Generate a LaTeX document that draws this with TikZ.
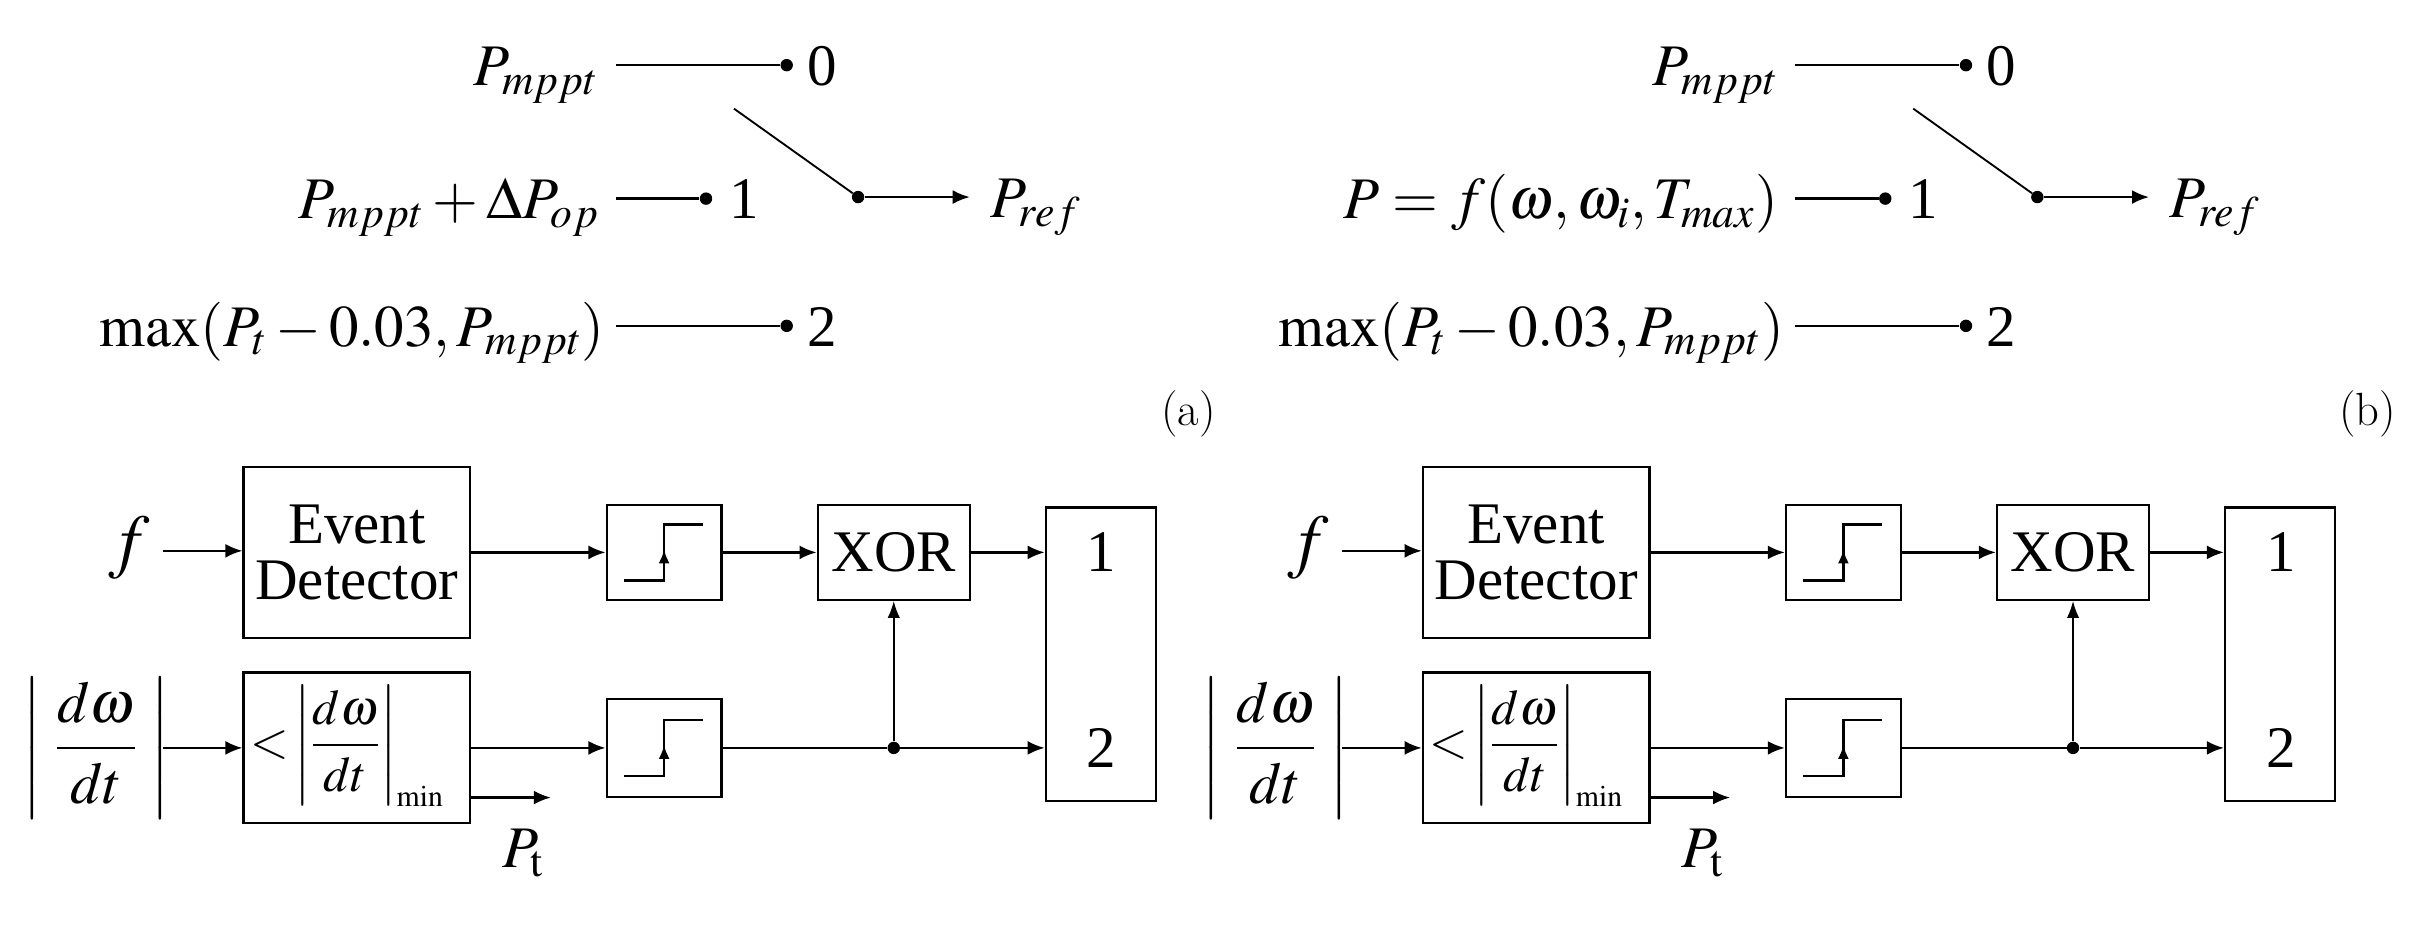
\documentclass[tikz,border=0pt]{standalone}
\usepackage{amsmath}
\usepackage{mathptmx}
\usepackage[no-math]{fontspec}
\setmainfont{Liberation Serif}
\usetikzlibrary{arrows.meta,calc}
\newcommand\stepsym[1]{%
  \draw[step line] ([shift={(-26,18)}]#1.center) -- ++(26,0) -- ++(0,-36) -- ++(25,0);
  \draw[step line,-{Latex[length=9pt,width=7pt]}] ([shift={(0,18)}]#1.center) -- ++(0,-20);}
\begin{document}
\begin{tikzpicture}[x=1pt,y=-1pt,
  txt/.style={inner sep=0pt,font=\fontsize{38}{40}\selectfont},
  blk/.style={draw,line width=1.5pt,inner sep=0pt,font=\fontsize{38}{40}\selectfont,align=center},
  con/.style={line width=1.5pt},
  arr/.style={line width=1.5pt,-{Latex[length=11pt,width=9pt]}},
  thin line/.style={line width=1.2pt},
  step line/.style={line width=1.7pt},
  dot/.style={circle,fill,inner sep=0pt,minimum size=8pt},
  lab/.style={font=\fontfamily{lmr}\fontsize{30}{32}\selectfont}]
\useasboundingbox (0,0) rectangle (1568,602);
\foreach \dx/\lb/\one in {0/a/{$P_{mppt}+\Delta P_{op}$},760/b/{$P=f(\omega,\omega_{i},T_{max})$}}{
\begin{scope}[xshift=\dx]
 \node[txt,anchor=base east] (r0\lb) at (386,55) {$P_{mppt}$};
 \node[txt,anchor=base east] (r1\lb) at (386,141) {\one};
 \node[txt,anchor=base east] (r2\lb) at (390,223) {$\max(P_{t}-0.03,P_{mppt})$};
 \coordinate (s0\lb) at (397,42);
 \coordinate (s1\lb) at (397,128);
 \coordinate (s2\lb) at (397,210);
 \node[dot] (d0\lb) at (507,42) {};
 \node[dot] (d1\lb) at (455,128) {};
 \node[dot] (d2\lb) at (507,210) {};
 \draw[con] (s0\lb) -- (d0\lb);
 \draw[con] (s1\lb) -- (d1\lb);
 \draw[con] (s2\lb) -- (d2\lb);
 \node[txt,anchor=base west] (n0\lb) at (520,55) {0};
 \node[txt,anchor=base west] (n1\lb) at (470,141) {1};
 \node[txt,anchor=base west] (n2\lb) at (520,223) {2};
 \coordinate (sw\lb) at (473,70);
 \node[dot] (sd\lb) at (553,127) {};
 \draw[thin line] (sw\lb) -- (sd\lb);
 \node[txt,anchor=base west] (pr\lb) at (638,140) {$P_{ref}$};
 \coordinate (pa\lb) at (625,127);
 \draw[arr] (sd\lb) -- (pa\lb);
 \node[lab] (cap\lb) at (766,267) {(\lb)};
 \node[txt,font=\fontsize{46}{46}\selectfont] (f\lb) at (83,353) {$f$};
 \node[blk,minimum width=146pt,minimum height=110pt] (ed\lb) at (230,356) {Event\\[-4pt]Detector};
 \node[blk,minimum width=74pt,minimum height=61pt] (s1b\lb) at (428,356) {};
 \node[blk,minimum width=98pt,minimum height=61pt] (xor\lb) at (576,356) {XOR};
 \node[blk,minimum width=71pt,minimum height=189pt] (out\lb) at (709.5,421.5) {};
 \node[txt] (o1\lb) at (710,356) {1};
 \node[txt] (o2\lb) at (710,482) {2};
 \node[txt] (dw\lb) at (62,482) {$\left|\;\dfrac{d\omega}{dt}\;\right|$};
 \node[blk,minimum width=146pt,minimum height=97pt] (cmp\lb) at (230,482) {};
 \node[txt,anchor=west,font=\fontsize{32}{34}\selectfont] (cmpt\lb) at (161,481) {$<\!\left|\dfrac{d\omega}{dt}\right|_{\scriptscriptstyle\mathrm{min}}$};
 \node[blk,minimum width=74pt,minimum height=63pt] (s2b\lb) at (428,482) {};
 \node[dot] (j\lb) at (576,482) {};
 \stepsym{s1b\lb}
 \stepsym{s2b\lb}
 \draw[arr] (105,355) coordinate (fs\lb) -- (fs\lb -| ed\lb.west);
 \draw[arr] (ed\lb.east |- s1b\lb) -- (s1b\lb.west);
 \draw[arr] (s1b\lb.east) -- (xor\lb.west);
 \draw[arr] (xor\lb.east) -- (xor\lb.east -| out\lb.west);
 \draw[arr] (105,482) coordinate (ds\lb) -- (ds\lb -| cmp\lb.west);
 \draw[arr] (cmp\lb.east) -- (s2b\lb.west);
 \draw[con] (s2b\lb.east) -- (j\lb);
 \draw[arr] (j\lb) -- (j\lb -| out\lb.west);
 \draw[thin line,-{Latex[length=11pt,width=8pt]}] (j\lb) -- (xor\lb.south);
 \coordinate (ps\lb) at (303,514);
 \coordinate (pe\lb) at (355,514);
 \draw[arr] (ps\lb) -- (pe\lb);
 \node[txt] (pt\lb) at (337,550) {$P_{\mathrm{t}}$};
\end{scope}}
\end{tikzpicture}
\end{document}
